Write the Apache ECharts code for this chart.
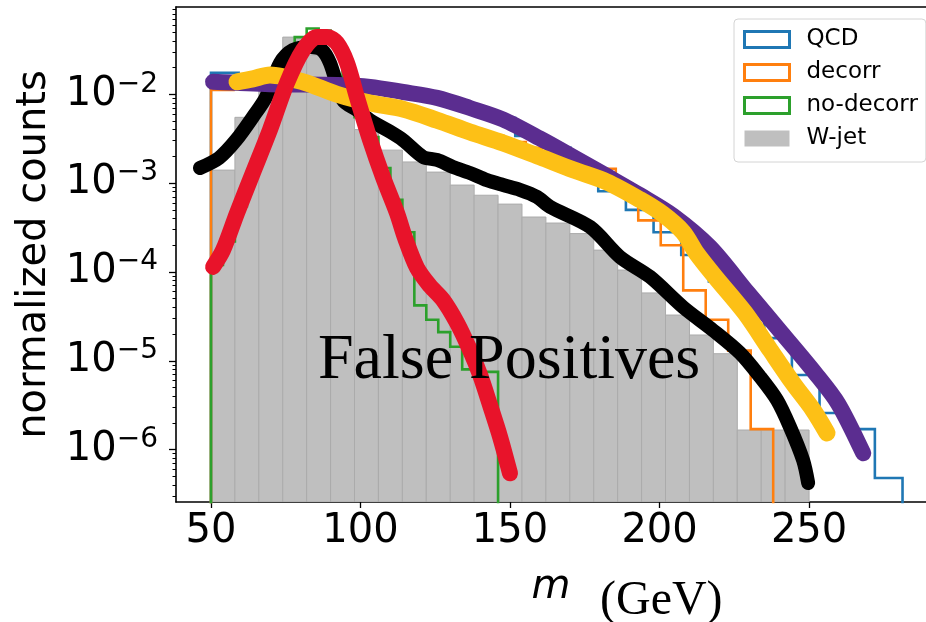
<!DOCTYPE html>
<html><head><meta charset="utf-8">
<script src="https://cdn.jsdelivr.net/npm/echarts@6/dist/echarts.min.js"></script>
<style>html,body{margin:0;padding:0;background:#fff}#c{width:926px;height:622px}</style>
</head><body><div id="c"></div>
<script>
// ---------- data ----------
const xTicks = [50, 100, 150, 200, 250];
const yTicks = [1e-6, 1e-5, 1e-4, 1e-3, 1e-2];
const yMinorTicks = [3e-7,4e-7,5e-7,6e-7,7e-7,8e-7,9e-7,
  2e-6,3e-6,4e-6,5e-6,6e-6,7e-6,8e-6,9e-6,
  2e-5,3e-5,4e-5,5e-5,6e-5,7e-5,8e-5,9e-5,
  2e-4,3e-4,4e-4,5e-4,6e-4,7e-4,8e-4,9e-4,
  2e-3,3e-3,4e-3,5e-3,6e-3,7e-3,8e-3,9e-3,
  2e-2,3e-2,4e-2,5e-2,6e-2,7e-2,8e-2,9e-2];

// W-jet (filled gray histogram)
const wjetEdges = [50,58,66,74,82,90,98,106,114,122,130,138,146,154,162,170,178,186,194,202,210,218,226,234,242,250];
const wjetVals = [1.4e-3,5.5e-3,1.8e-2,4.4e-2,2.77e-2,9.0e-3,4.0e-3,2.35e-3,1.73e-3,1.33e-3,9.5e-4,7.3e-4,5.8e-4,4.15e-4,3.55e-4,2.7e-4,1.76e-4,1.05e-4,5.8e-5,3.27e-5,1.95e-5,1.2e-5,1.66e-6,1.66e-6,1.66e-6];

// QCD (blue step)
const qcdEdges = [50,59.25,68.5,77.75,87,96.25,105.5,114.75,124,133.25,142.5,151.75,161,170.25,179.5,188.75,198,207.25,216.5,225.75,235,244.25,253.5,262.75,272,281.25];
const qcdVals = [1.74e-2,1.45e-2,1.32e-2,1.26e-2,1.18e-2,1.10e-2,1.02e-2,9.3e-3,8.1e-3,6.9e-3,5.4e-3,3.4e-3,2.5e-3,1.45e-3,8.1e-4,5.0e-4,2.8e-4,1.55e-4,7.8e-5,3.9e-5,1.8e-5,6.9e-6,2.58e-6,1.70e-6,4.78e-7];

// decorr (orange step)
const decorrEdges = [50,57.52,65.04,72.56,80.08,87.6,95.12,102.64,110.16,117.68,125.2,132.72,140.24,147.76,155.28,162.8,170.32,177.84,185.36,192.88,200.4,207.92,215.44,222.96,230.48,238];
const decorrVals = [1.12e-2,1.45e-2,1.65e-2,1.65e-2,1.45e-2,1.2e-2,9.5e-3,8.0e-3,7.0e-3,6.0e-3,5.0e-3,4.1e-3,3.4e-3,2.9e-3,2.5e-3,2.1e-3,1.75e-3,1.45e-3,8.0e-4,3.8e-4,2.0e-4,6.2e-5,2.9e-5,1.3e-5,1.7e-6];

// no-decorr (green step)
const nodecorrEdges = [50,54,58,62,66,70,74,78,82,86,90,94,98,102,106,110,114,118,122,126,130,134,138,142,146];
const nodecorrVals = [1.2e-4,2.2e-4,5.5e-4,1.33e-3,2.8e-3,6.5e-3,2.0e-2,4.4e-2,5.5e-2,5.2e-2,3.5e-2,1.5e-2,5.5e-3,3.3e-3,1.48e-3,6.5e-4,2.8e-4,4.2e-5,2.9e-5,2.1e-5,1.44e-5,8.0e-6,7.5e-6,7.5e-6];

// thick hand-drawn curves [m, value]
const blackCurve = [[46.3,1.48e-3],[52.7,1.92e-3],[58.4,3.05e-3],[64.0,5.55e-3],[68.4,9.3e-3],[73.1,2.25e-2],[77.4,3.15e-2],[83.1,3.41e-2],[87.1,3.15e-2],[89.8,2.25e-2],[94.1,8.6e-3],[98.8,6.65e-3],[103.2,5.1e-3],[108.9,3.96e-3],[114.2,3.05e-3],[120.9,1.97e-3],[125.6,1.82e-3],[130.9,1.52e-3],[136.6,1.30e-3],[142.3,1.08e-3],[147.7,9.5e-4],[153.3,8.4e-4],[159.0,7.0e-4],[163.4,5.4e-4],[176.8,3.2e-4],[186.8,1.47e-4],[196.8,8.8e-5],[207.9,4.0e-5],[217.9,2.2e-5],[226.9,1.22e-5],[233.6,6.6e-6],[239.3,3.6e-6],[243.6,1.8e-6],[248.0,7.6e-7],[249.7,4.2e-7]];
const redCurve = [[50.7,1.14e-4],[54.0,1.75e-4],[58.7,4.6e-4],[64.0,1.30e-3],[69.7,3.96e-3],[75.4,1.34e-2],[80.8,3.15e-2],[85.5,4.42e-2],[88.8,4.42e-2],[92.1,3.78e-2],[95.5,2.25e-2],[98.8,9.3e-3],[103.2,3.05e-3],[107.5,1.17e-3],[112.2,4.6e-4],[114.9,2.41e-4],[118.9,1.11e-4],[123.2,6.98e-5],[127.6,4.83e-5],[132.3,2.66e-5],[136.6,1.32e-5],[140.0,6.9e-6],[143.3,3.17e-6],[146.7,1.38e-6],[150.0,5.4e-7]];
const purpleCurve = [[50.7,1.38e-2],[69.7,1.30e-2],[92.1,1.27e-2],[103.2,1.21e-2],[114.2,1.06e-2],[125.6,9.1e-3],[136.6,7.0e-3],[147.7,5.2e-3],[161.0,3.05e-3],[171.1,1.97e-3],[182.4,1.20e-3],[193.5,7.3e-4],[204.5,4.3e-4],[216.9,1.9e-4],[229.6,5.8e-5],[240.9,2.05e-5],[252.0,7.3e-6],[259.7,3.3e-6],[268.1,9.1e-7]];
const goldCurve = [[58.7,1.38e-2],[64.0,1.49e-2],[69.7,1.65e-2],[80.8,1.38e-2],[92.1,1.0e-2],[103.2,7.97e-3],[114.2,6.8e-3],[125.6,5.1e-3],[136.6,3.76e-3],[147.7,2.83e-3],[160.0,1.97e-3],[171.1,1.41e-3],[182.4,1.03e-3],[193.5,6.5e-4],[201.0,4.5e-4],[207.9,2.8e-4],[212.5,1.6e-4],[218.6,8.8e-5],[228.6,3.45e-5],[237.0,1.32e-5],[244.6,5.6e-6],[251.3,2.8e-6],[256.0,1.54e-6]];

// ---------- chart ----------
const XMIN = 38.3, XMAX = 289.1;
const YMIN = 2.57e-7, YMAX = 0.096;
const FLOOR = 1e-10;

function stepPoints(edges, vals) {
  const pts = [[edges[0], FLOOR]];
  for (let i = 0; i < vals.length; i++) {
    pts.push([edges[i], vals[i]]);
    pts.push([edges[i + 1], vals[i]]);
  }
  pts.push([edges[edges.length - 1], FLOOR]);
  return pts;
}

const chart = echarts.init(document.getElementById('c'), null, {renderer: 'canvas'});
const axisColor = '#000';
const stepLine = (name, edges, vals, color, z) => ({
  name, type: 'line', data: stepPoints(edges, vals), showSymbol: false, symbol: 'none',
  lineStyle: {color, width: 2.6, join: 'miter'}, itemStyle: {color}, clip: true, z, animation: false
});
const thick = (name, data, color, width, z) => ({
  name, type: 'line', data, showSymbol: false, symbol: 'none', smooth: 0.3,
  lineStyle: {color, width, cap: 'round', join: 'round'}, itemStyle: {color}, clip: true, z, animation: false
});

chart.setOption({
  animation: false,
  backgroundColor: '#fff',
  grid: {left: 176, top: 7, width: 750, height: 495, containLabel: false},
  xAxis: [{
    type: 'value', min: XMIN, max: XMAX, position: 'bottom',
    axisLine: {show: true, onZero: false, lineStyle: {color: axisColor, width: 1.6}},
    axisTick: {show: true, length: 6, customValues: xTicks, lineStyle: {color: axisColor, width: 1.3}},
    axisLabel: {customValues: xTicks, fontFamily: 'DejaVu Sans', fontSize: 40, color: '#000', margin: 10},
    splitLine: {show: false},
    name: 'm', nameLocation: 'middle', nameGap: 66,
    nameTextStyle: {fontFamily: 'DejaVu Sans', fontStyle: 'italic', fontSize: 40, color: '#000'}
  }, {
    type: 'value', min: XMIN, max: XMAX, position: 'top',
    axisLine: {show: true, onZero: false, lineStyle: {color: axisColor, width: 1.6}},
    axisTick: {show: false}, axisLabel: {show: false}, splitLine: {show: false}
  }],
  yAxis: [{
    type: 'log', logBase: 10, min: YMIN, max: YMAX, position: 'left',
    axisLine: {show: true, onZero: false, lineStyle: {color: axisColor, width: 1.6}},
    axisTick: {show: true, length: 7, customValues: yTicks, lineStyle: {color: axisColor, width: 1.3}},
    axisLabel: {
      customValues: yTicks, margin: 18, color: '#000',
      formatter: function (v) {
        const e = Math.round(Math.log10(v));
        return '{b|10}{s|\u2212' + (-e) + '}';
      },
      rich: {
        b: {fontFamily: 'DejaVu Sans', fontSize: 40, lineHeight: 48, color: '#000'},
        s: {fontFamily: 'DejaVu Sans', fontSize: 28, lineHeight: 28, verticalAlign: 'top', color: '#000'}
      }
    },
    splitLine: {show: false},
    name: 'normalized counts', nameLocation: 'middle', nameGap: 120, nameRotate: 90,
    nameTextStyle: {fontFamily: 'DejaVu Sans', fontSize: 40, color: '#000'}
  }, {
    type: 'log', logBase: 10, min: YMIN, max: YMAX, position: 'left',
    axisLine: {show: false},
    axisTick: {show: true, length: 3.5, customValues: yMinorTicks, lineStyle: {color: axisColor, width: 1}},
    axisLabel: {show: false}, splitLine: {show: false}
  }],
  legend: {
    orient: 'vertical', left: 734, top: 19, padding: [9, 8, 12, 9],
    itemGap: 10, itemWidth: 45, itemHeight: 16, selectedMode: false,
    backgroundColor: 'rgba(255,255,255,0.85)', borderColor: '#d4d4d4', borderWidth: 1, borderRadius: 4,
    textStyle: {fontFamily: 'DejaVu Sans', fontSize: 23, color: '#000', lineHeight: 20, padding: [0, 0, 0, 12]},
    data: [
      {name: 'QCD', icon: 'rect', itemStyle: {color: '#ffffff', borderColor: '#1f77b4', borderWidth: 3}},
      {name: 'decorr', icon: 'rect', itemStyle: {color: '#ffffff', borderColor: '#ff7f0e', borderWidth: 3}},
      {name: 'no-decorr', icon: 'rect', itemStyle: {color: '#ffffff', borderColor: '#2ca02c', borderWidth: 3}},
      {name: 'W-jet', icon: 'rect', itemStyle: {color: '#bfbfbf', borderWidth: 0}}
    ]
  },
  graphic: [
    {type: 'text', x: 318, y: 361, z: 100, silent: true,
     style: {text: 'False Positives', fontFamily: 'Liberation Serif', fontSize: 64, fill: '#000', align: 'left', verticalAlign: 'middle'}},
    {type: 'text', x: 600, y: 601, z: 100, silent: true,
     style: {text: '(GeV)', fontFamily: 'Liberation Serif', fontSize: 48, fill: '#000', align: 'left', verticalAlign: 'middle'}}
  ],
  series: [
    {
      name: 'W-jet', type: 'custom', coordinateSystem: 'cartesian2d', xAxisIndex: 0, yAxisIndex: 0,
      data: wjetVals.map((v, i) => [wjetEdges[i], wjetEdges[i + 1], v]),
      encode: {x: [0, 1], y: 2}, clip: true, z: 1, itemStyle: {color: '#bfbfbf'},
      renderItem: function (params, api) {
        const p0 = api.coord([api.value(0), api.value(2)]);
        const p1 = api.coord([api.value(1), YMIN]);
        return {type: 'rect', shape: {x: p0[0], y: p0[1], width: p1[0] - p0[0], height: p1[1] - p0[1]},
                style: {fill: '#bfbfbf', stroke: '#ababab', lineWidth: 1}};
      }
    },
    stepLine('QCD', qcdEdges, qcdVals, '#1f77b4', 2),
    stepLine('decorr', decorrEdges, decorrVals, '#ff7f0e', 3),
    stepLine('no-decorr', nodecorrEdges, nodecorrVals, '#2ca02c', 4),
    thick('curve-black', blackCurve, '#000000', 14, 5),
    thick('curve-purple', purpleCurve, '#5b2d90', 16, 6),
    thick('curve-gold', goldCurve, '#fdc016', 17, 7),
    thick('curve-red', redCurve, '#e8132a', 16, 8)
  ]
});
</script>
</body></html>
